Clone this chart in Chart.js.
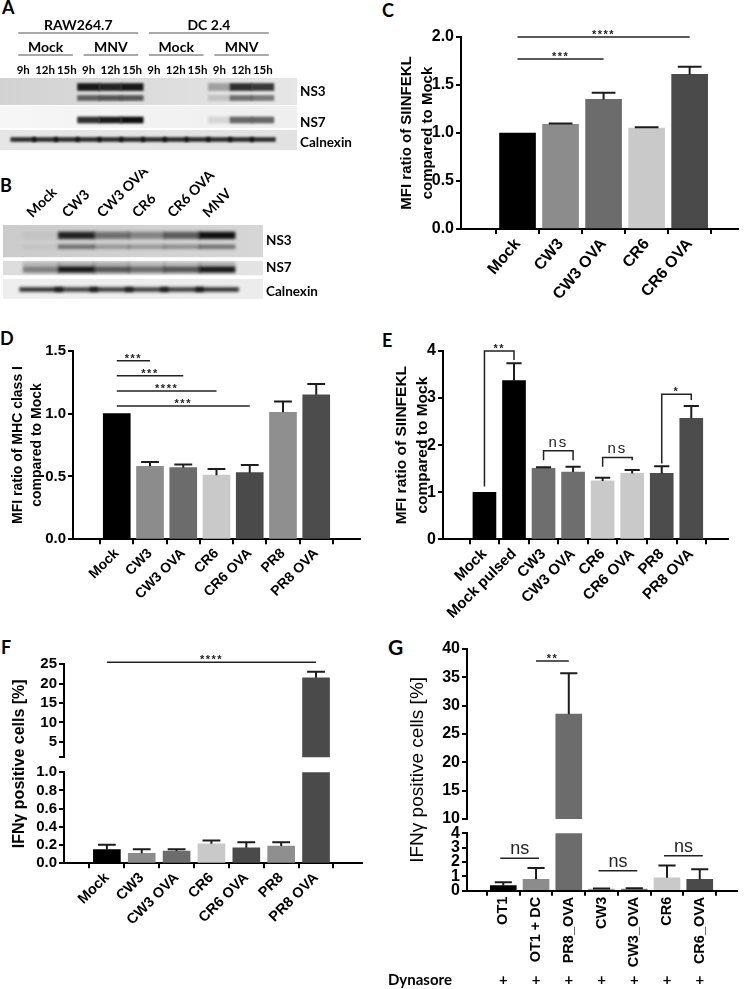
<!DOCTYPE html>
<html>
<head>
<meta charset="utf-8">
<script src="https://cdn.jsdelivr.net/npm/chart.js@4.4.1/dist/chart.umd.min.js"></script>
<style>
  body { margin: 0; background: #fff; width: 750px; height: 989px; position: relative; overflow: hidden; }
  canvas { position: absolute; }
  .tag { position: absolute; font-family: Lato, 'Open Sans', sans-serif; font-weight: bold; font-size: 18px; line-height: 1; color: #000; }
</style>
</head>
<body>
<div class="tag" style="left:2px;top:-2px">A</div>
<div class="tag" style="left:0px;top:176px">B</div>
<div class="tag" style="left:382px;top:1px">C</div>
<div class="tag" style="left:0px;top:329px">D</div>
<div class="tag" style="left:382px;top:331px">E</div>
<div class="tag" style="left:1px;top:638px">F</div>
<div class="tag" style="left:388px;top:636px;font-size:21px">G</div>
<script>
// ---- blots (band strength per lane, 0 = nothing, 1 = saturated) ----
const laneTimes = ['9h', '12h', '15h', '9h', '12h', '15h', '9h', '12h', '15h', '9h', '12h', '15h'];
const aGroups = [['Mock', 0, 2, 0], ['MNV', 3, 5, 0], ['Mock', 6, 8, 0], ['MNV', 9, 11, 0], ['RAW264.7', 0, 5, 1], ['DC 2.4', 6, 11, 1]];
const aNS3 = [0, 0, 0, 0.95, 0.9, 0.95, 0, 0, 0, 0.3, 0.85, 0.8];
const aNS3low = [0, 0, 0, 0.6, 0.65, 0.65, 0, 0, 0, 0.15, 0.55, 0.5];
const aNS7 = [0, 0, 0, 0.85, 0.95, 1, 0, 0, 0, 0.12, 0.6, 0.6];
const aCalnexin = [0.85, 0.85, 0.85, 0.85, 0.85, 0.85, 0.85, 0.85, 0.85, 0.85, 0.85, 0.85];

const bLanes = ['Mock', 'CW3', 'CW3 OVA', 'CR6', 'CR6 OVA', 'MNV'];
const bNS3 = [0.05, 0.9, 0.5, 0.4, 0.6, 1];
const bNS3low = [0.05, 0.5, 0.3, 0.3, 0.35, 0.5];
const bNS7up = [0.2, 0.25, 0.25, 0.2, 0.2, 0.25];
const bNS7 = [0.45, 0.95, 0.65, 0.55, 0.65, 0.95];
const bCalnexin = [0.85, 0.8, 0.8, 0.8, 0.8, 0.85];

// ---- C ----
const cCats = ['Mock', 'CW3', 'CW3 OVA', 'CR6', 'CR6 OVA'];
const cMean = [1.0, 1.09, 1.35, 1.05, 1.61];
const cSem = [0, 0.01, 0.07, 0.01, 0.08];
const cTicks = [0, 0.5, 1, 1.5, 2];
const cSig = [[0, 4, 2.0, '****'], [0, 2, 1.77, '***']];

// ---- D ----
const dCats = ['Mock', 'CW3', 'CW3 OVA', 'CR6', 'CR6 OVA', 'PR8', 'PR8 OVA'];
const dMean = [1.0, 0.58, 0.57, 0.51, 0.53, 1.01, 1.15];
const dSem = [0, 0.035, 0.025, 0.05, 0.06, 0.085, 0.085];
const dTicks = [0, 0.5, 1, 1.5];
const dSig = [[0, 1, 1.42, '***'], [0, 2, 1.30, '***'], [0, 3, 1.18, '****'], [0, 4, 1.06, '***']];

// ---- E ----
const eCats = ['Mock', 'Mock pulsed', 'CW3', 'CW3 OVA', 'CR6', 'CR6 OVA', 'PR8', 'PR8 OVA'];
const eMean = [1.0, 3.37, 1.51, 1.43, 1.24, 1.40, 1.40, 2.57];
const eSem = [0, 0.37, 0.02, 0.11, 0.07, 0.07, 0.15, 0.26];
const eTicks = [0, 1, 2, 3, 4];
// [from, to, bracket height, text, left leg end, right leg end]
const eSig = [[0, 1, 4.0, '**', 1.12, 3.81], [2, 3, 1.88, 'ns', 1.68, 1.68], [4, 5, 1.74, 'ns', 1.54, 1.68], [6, 7, 3.08, '*', 1.61, 2.96]];

// ---- F ----
const fCats = ['Mock', 'CW3', 'CW3 OVA', 'CR6', 'CR6 OVA', 'PR8', 'PR8 OVA'];
const fMean = [0.15, 0.11, 0.135, 0.215, 0.17, 0.19, 21.5];
const fSem = [0.055, 0.045, 0.02, 0.035, 0.06, 0.04, 1.6];
const fTicksHigh = [1, 5, 10, 15, 20, 25];
const fTicksLow = [0, 0.2, 0.4, 0.6, 0.8, 1.0];
const fSig = [[0, 6, 25.5, '****']];

// ---- G ----
const gCats = ['OT1', 'OT1 + DC', 'PR8_OVA', 'CW3', 'CW3_OVA', 'CR6', 'CR6_OVA'];
const gMean = [0.35, 0.8, 28.5, 0.12, 0.12, 0.9, 0.8];
const gSem = [0.24, 0.78, 7.2, 0.03, 0.05, 0.86, 0.7];
const gDynasore = ['+', '+', '+', '+', '+', '+', '+'];
const gTicksHigh = [10, 15, 20, 25, 30, 35, 40];
const gTicksLow = [0, 1, 2, 3, 4];
const gSigHigh = [[1, 2, 37.9, '**']];
const gSigLow = [[0, 1, 2.26, 'ns'], [3, 4, 1.39, 'ns'], [5, 6, 2.44, 'ns']];

// bar fills
const cColors = ['#000000', '#8c8c8c', '#6c6c6c', '#c9c9c9', '#4a4a4a'];
const dColors = ['#000000', '#8c8c8c', '#6c6c6c', '#c9c9c9', '#4a4a4a', '#8f8f8f', '#4c4c4c'];
const eColors = ['#000000', '#000000', '#6e6e6e', '#6e6e6e', '#c9c9c9', '#c9c9c9', '#4c4c4c', '#4c4c4c'];
const fColors = ['#000000', '#8c8c8c', '#6c6c6c', '#c9c9c9', '#4a4a4a', '#8f8f8f', '#4a4a4a'];
const gColors = ['#000000', '#8c8c8c', '#6c6c6c', '#a3a3a3', '#7a7a7a', '#c9c9c9', '#4a4a4a'];

const ARIAL = "'Liberation Sans', Arial, sans-serif";
const CAL = "Lato, 'Open Sans', sans-serif";
Chart.defaults.font.family = ARIAL;
Chart.defaults.color = '#000';

// error bars (upper half only, like Prism)
const errBars = {
  id: 'errBars',
  afterDatasetsDraw(chart) {
    const ds = chart.data.datasets[0];
    if (!ds.sem) return;
    const meta = chart.getDatasetMeta(0), ys = chart.scales.y, ca = chart.chartArea, ctx = chart.ctx;
    ctx.save();
    ctx.beginPath();
    ctx.rect(ca.left, ca.top - 2, ca.right - ca.left, ca.bottom - ca.top + 2);
    ctx.clip();
    ctx.strokeStyle = '#1c1c1c';
    ctx.lineWidth = 2;
    meta.data.forEach((bar, i) => {
      if (!ds.sem[i]) return;
      const top = ys.getPixelForValue(ds.data[i].y + ds.sem[i]);
      const half = bar.width * 0.33;
      ctx.beginPath();
      ctx.moveTo(bar.x, bar.y);
      ctx.lineTo(bar.x, top);
      ctx.moveTo(bar.x - half, top);
      ctx.lineTo(bar.x + half, top);
      ctx.stroke();
    });
    ctx.restore();
  }
};

// significance lines / brackets
const sigMarks = {
  id: 'sig',
  afterDatasetsDraw(chart, args, o) {
    if (!o.items) return;
    const xs = chart.scales.x, ys = chart.scales.y, ctx = chart.ctx;
    ctx.save();
    ctx.strokeStyle = '#222';
    ctx.fillStyle = '#222';
    ctx.lineWidth = 1.5;
    ctx.textAlign = 'center';
    ctx.textBaseline = 'alphabetic';
    o.items.forEach(([a, b, v, txt, la, lb]) => {
      const x1 = xs.getPixelForValue(a), x2 = xs.getPixelForValue(b), y = ys.getPixelForValue(v);
      ctx.beginPath();
      if (la !== undefined) {
        ctx.moveTo(x1, ys.getPixelForValue(la));
        ctx.lineTo(x1, y);
        ctx.lineTo(x2, y);
        ctx.lineTo(x2, ys.getPixelForValue(lb));
      } else {
        ctx.moveTo(x1 - (o.ext || 0), y);
        ctx.lineTo(x2 + (o.ext || 0), y);
      }
      ctx.stroke();
      const ns = txt === 'ns';
      ctx.font = ns ? o.nsFont : o.starFont;
      ctx.letterSpacing = ns ? (o.nsGap || '0px') : (o.starGap || '0px');
      ctx.fillText(txt, (x1 + x2) / 2, y + (ns ? -4 : 1));
    });
    ctx.restore();
  }
};

// axis title shared by the two halves of a broken axis
const sideTitle = {
  id: 'sideTitle',
  afterDraw(chart, args, o) {
    if (!o.text) return;
    const ctx = chart.ctx;
    ctx.save();
    ctx.translate(o.x, o.y);
    ctx.rotate(-Math.PI / 2);
    ctx.font = o.font;
    ctx.fillStyle = '#000';
    ctx.textAlign = 'center';
    ctx.textBaseline = 'middle';
    ctx.fillText(o.text, 0, 0);
    ctx.restore();
  }
};

// "Dynasore  +  +  +" row under panel G
const rowMarks = {
  id: 'rowMarks',
  afterDraw(chart, args, o) {
    if (!o.marks) return;
    const xs = chart.scales.x, ctx = chart.ctx;
    ctx.save();
    ctx.fillStyle = '#000';
    ctx.textBaseline = 'middle';
    ctx.font = o.font;
    ctx.textAlign = 'left';
    ctx.fillText(o.label, o.x, o.y);
    ctx.font = o.markFont;
    ctx.textAlign = 'center';
    o.marks.forEach((m, i) => ctx.fillText(m, xs.getPixelForValue(i), o.y));
    ctx.restore();
  }
};

function addCanvas(box) {
  const cv = document.createElement('canvas');
  cv.width = box[2];
  cv.height = box[3];
  cv.style.left = box[0] + 'px';
  cv.style.top = box[1] + 'px';
  document.body.appendChild(cv);
  return cv;
}

function barChart(o) {
  const [bx, by, bw, bh] = o.box;
  const [L, T, R, B] = o.plot;
  const showX = o.showX !== false;
  const axisTicks = { display: true, drawOnChartArea: false, drawTicks: true, tickLength: 5, color: '#000', lineWidth: 2 };
  return new Chart(addCanvas(o.box), {
    type: 'bar',
    data: {
      datasets: [{
        data: o.mean.map((v, i) => ({ x: i, y: v })),
        sem: o.sem,
        backgroundColor: o.colors,
        borderWidth: 0,
        barThickness: o.barW,
        clip: 0
      }]
    },
    options: {
      responsive: false,
      animation: false,
      events: [],
      layout: { padding: { top: T - by, right: bx + bw - R, left: 0, bottom: showX ? 0 : by + bh - B } },
      plugins: {
        legend: { display: false },
        tooltip: { enabled: false },
        sig: o.sig || {},
        sideTitle: o.sideTitle || {},
        rowMarks: o.rowMarks || {}
      },
      scales: {
        x: {
          type: 'linear',
          min: o.xr[0],
          max: o.xr[1],
          display: showX,
          afterFit: s => { if (showX) s.height = by + bh - B; },
          afterBuildTicks: s => { s.ticks = o.cats.map((c, i) => ({ value: i })); },
          ticks: {
            callback: v => o.cats[v],
            autoSkip: false,
            minRotation: o.rot,
            maxRotation: o.rot,
            padding: 1,
            color: '#000',
            font: { size: o.xFont, weight: 'bold' }
          },
          grid: axisTicks,
          border: { display: true, color: '#000', width: 2 }
        },
        y: {
          min: o.yr[0],
          max: o.yr[1],
          afterFit: s => { s.width = L - bx; },
          afterBuildTicks: s => { s.ticks = o.yTicks.map(v => ({ value: v })); },
          ticks: { callback: o.yFmt, autoSkip: false, padding: 2, color: '#000', font: { size: o.yFont, weight: 'bold' } },
          grid: axisTicks,
          border: { display: true, color: '#000', width: 2 },
          title: o.title
            ? { display: true, text: o.title.text, color: '#000', font: o.title.font, padding: { top: o.title.pad, bottom: 0 } }
            : { display: false }
        }
      }
    },
    plugins: [errBars, sigMarks, sideTitle, rowMarks]
  });
}

// western blot strips: background strips + blurred band bars
const blotDraw = {
  id: 'blot',
  beforeDatasetsDraw(chart, args, o) {
    const ctx = chart.ctx, ys = chart.scales.y, ca = chart.chartArea;
    ctx.save();
    o.rows.forEach(r => {
      const y1 = ys.getPixelForValue(r.top), y2 = ys.getPixelForValue(r.bottom);
      const g = ctx.createLinearGradient(ca.left, 0, ca.right, 0);
      g.addColorStop(0, r.bg[0]);
      g.addColorStop(1, r.bg[1]);
      ctx.fillStyle = g;
      ctx.fillRect(ca.left, y1, ca.right - ca.left, y2 - y1);
    });
    ctx.filter = 'blur(' + o.blur + 'px)';
  },
  afterDatasetsDraw(chart) {
    chart.ctx.restore();
  },
  afterDraw(chart, args, o) {
    if (!o.groups) return;
    const ctx = chart.ctx, xs = chart.scales.x, ca = chart.chartArea;
    ctx.save();
    ctx.font = 'bold 14px ' + CAL;
    ctx.textAlign = 'center';
    ctx.textBaseline = 'middle';
    o.groups.forEach(([label, from, to, level]) => {
      const x1 = xs.getPixelForValue(from) - 5, x2 = xs.getPixelForValue(to) + 6;
      const y = ca.top - o.levels[level];
      ctx.strokeStyle = '#8c8c8c';
      ctx.lineWidth = 1.5;
      ctx.beginPath();
      ctx.moveTo(x1, y);
      ctx.lineTo(x2, y);
      ctx.stroke();
      ctx.fillStyle = '#000';
      ctx.fillText(label, (x1 + x2) / 2, y - 7.5);
    });
    ctx.restore();
  }
};

function blotChart(o) {
  const [bx, by, bw, bh] = o.box;
  const [L, T, R, B] = o.plot;
  const datasets = o.bands.map(b => ({
    data: b.vals.map((v, i) => ({ x: i, y: [b.c - b.h / 2, b.c + b.h / 2] })),
    backgroundColor: b.vals.map(v => 'rgba(14,14,14,' + v + ')'),
    barThickness: b.w,
    borderWidth: 0,
    grouped: false,
    clip: false
  }));
  return new Chart(addCanvas(o.box), {
    type: 'bar',
    data: { datasets },
    options: {
      responsive: false,
      animation: false,
      events: [],
      layout: { padding: { left: L - bx, top: 0, right: 0, bottom: by + bh - B } },
      plugins: {
        legend: { display: false },
        tooltip: { enabled: false },
        blot: { rows: o.rows, groups: o.groups, levels: o.levels, blur: o.blur }
      },
      scales: {
        x: {
          type: 'linear',
          position: 'top',
          min: o.xr[0],
          max: o.xr[1],
          afterFit: s => { s.height = T - by; },
          afterBuildTicks: s => { s.ticks = o.lanes.map((l, i) => ({ value: i })); },
          ticks: {
            callback: v => o.lanes[v],
            autoSkip: false,
            minRotation: o.rot,
            maxRotation: o.rot,
            padding: o.tickPad,
            color: '#000',
            font: { family: CAL, size: o.laneFont, weight: 'bold' }
          },
          grid: { display: false, drawTicks: false },
          border: { display: false }
        },
        y: {
          position: 'right',
          reverse: true,
          min: 0,
          max: B - T,
          afterFit: s => { s.width = bx + bw - R; },
          afterBuildTicks: s => { s.ticks = o.rows.map(r => ({ value: r.mid })); },
          ticks: { callback: (v, i) => o.rows[i].name, autoSkip: false, padding: 3, color: '#000', font: { family: CAL, size: 13.5, weight: 'bold' } },
          grid: { display: false, drawTicks: false },
          border: { display: false }
        }
      }
    },
    plugins: [blotDraw]
  });
}

// ---------- A ----------
blotChart({
  box: [0, 0, 375, 165], plot: [0, 78, 297, 150],
  lanes: laneTimes, xr: [-0.5, 12.0], rot: 0, tickPad: 1, blur: 1.3, laneFont: 11.5,
  groups: aGroups, levels: [23, 45],
  rows: [
    { name: 'NS3', top: 0, bottom: 27, mid: 14, bg: ['#d2d2d2', '#e6e6e6'] },
    { name: 'NS7', top: 28, bottom: 50, mid: 45, bg: ['#f6f6f6', '#efefef'] },
    { name: 'Calnexin', top: 52, bottom: 72, mid: 65, bg: ['#e6e6e6', '#e2e2e2'] }
  ],
  bands: [
    { vals: aNS3, c: 9, h: 7, w: 22 },
    { vals: aNS3low, c: 20, h: 5, w: 22 },
    { vals: aNS7, c: 42, h: 6, w: 22 },
    { vals: aCalnexin, c: 61.5, h: 4, w: 25 }
  ]
});

// ---------- B ----------
blotChart({
  box: [0, 170, 375, 140], plot: [3, 225, 263, 303],
  lanes: bLanes, xr: [-0.47, 5.69], rot: 45, tickPad: 4, blur: 1.5, laneFont: 14,
  rows: [
    { name: 'NS3', top: 0, bottom: 34, mid: 16, bg: ['#cbcbcb', '#d6d6d6'] },
    { name: 'NS7', top: 38, bottom: 53, mid: 45, bg: ['#dcdcdc', '#e4e4e4'] },
    { name: 'Calnexin', top: 57, bottom: 78, mid: 70, bg: ['#eeeeee', '#ececec'] }
  ],
  bands: [
    { vals: bNS3, c: 11, h: 7, w: 36 },
    { vals: bNS3low, c: 23, h: 4, w: 36 },
    { vals: bNS7up, c: 41, h: 3, w: 36 },
    { vals: bNS7, c: 47, h: 6, w: 36 },
    { vals: bCalnexin, c: 68, h: 4, w: 43 }
  ]
});

const oneDec = v => v.toFixed(1);
const starsSmall = { starFont: 'bold 11px ' + ARIAL, starGap: '1.5px', nsFont: '15px ' + ARIAL, nsGap: '2px' };

// ---------- C ----------
barChart({
  box: [375, 0, 375, 330], plot: [461, 37, 738, 229],
  cats: cCats, mean: cMean, sem: cSem, colors: cColors,
  xr: [-0.67, 4.48], barW: 36, rot: 50, xFont: 16,
  yr: [0, 2], yTicks: cTicks, yFmt: oneDec, yFont: 16,
  title: { text: ['MFI ratio of SIINFEKL', 'compared to Mock'], font: { size: 15, weight: 'bold', lineHeight: 1.4 }, pad: 21.5 },
  sig: Object.assign({ items: cSig }, starsSmall)
});

// ---------- D ----------
barChart({
  box: [0, 330, 375, 290], plot: [73, 350.7, 360, 539.3],
  cats: dCats, mean: dMean, sem: dSem, colors: dColors,
  xr: [-0.70, 6.70], barW: 27, rot: 45, xFont: 14,
  yr: [0, 1.5], yTicks: dTicks, yFmt: oneDec, yFont: 15,
  title: { text: ['MFI ratio of MHC class I', 'compared to Mock'], font: { size: 14, weight: 'bold', lineHeight: 1.36 }, pad: 8.5 },
  sig: Object.assign({ items: dSig }, starsSmall)
});

// ---------- E ----------
barChart({
  box: [375, 330, 375, 290], plot: [443, 351, 728, 539.3],
  cats: eCats, mean: eMean, sem: eSem, colors: eColors,
  xr: [-0.80, 7.64], barW: 23, rot: 45, xFont: 15,
  yr: [0, 4], yTicks: eTicks, yFmt: v => String(v), yFont: 16,
  title: { text: ['MFI ratio of SIINFEKL', 'compared to Mock'], font: { size: 15.5, weight: 'bold', lineHeight: 1.3 }, pad: 17 },
  sig: Object.assign({ items: eSig }, starsSmall)
});

// ---------- F (broken y axis) ----------
barChart({
  box: [0, 620, 375, 369], plot: [64, 664.3, 361.7, 757.3], showX: false,
  cats: fCats, mean: fMean, sem: fSem, colors: fColors,
  xr: [-0.62, 6.70], barW: 27, rot: 45, xFont: 14.5,
  yr: [1, 25], yTicks: fTicksHigh, yFmt: v => (v === 1 ? '' : String(v)), yFont: 15,
  sig: Object.assign({ items: fSig }, starsSmall)
});
barChart({
  box: [0, 620, 375, 369], plot: [64, 772.3, 361.7, 863.3],
  cats: fCats, mean: fMean, sem: fSem, colors: fColors,
  xr: [-0.62, 6.70], barW: 27, rot: 45, xFont: 14.5,
  yr: [0, 1], yTicks: fTicksLow, yFmt: oneDec, yFont: 15,
  sideTitle: { text: 'IFNγ positive cells [%]', x: 20, y: (664.3 + 863.3) / 2 - 620, font: 'bold 16px ' + ARIAL }
});

// ---------- G (broken y axis) ----------
barChart({
  box: [375, 620, 375, 369], plot: [467, 649, 736.7, 819], showX: false,
  cats: gCats, mean: gMean, sem: gSem, colors: gColors,
  xr: [-0.52, 6.54], barW: 26, rot: 90, xFont: 14.5,
  yr: [10, 40], yTicks: gTicksHigh, yFmt: v => String(v), yFont: 16,
  sig: { items: gSigHigh, starFont: 'bold 11px ' + ARIAL, starGap: '1.5px' }
});
barChart({
  box: [375, 620, 375, 369], plot: [467, 833.3, 736.7, 890.7],
  cats: gCats, mean: gMean, sem: gSem, colors: gColors,
  xr: [-0.52, 6.54], barW: 26, rot: 90, xFont: 14.5,
  yr: [0, 4], yTicks: gTicksLow, yFmt: v => String(v), yFont: 16,
  sig: { items: gSigLow, nsFont: '18px ' + ARIAL, nsGap: '0px', ext: 3 },
  sideTitle: { text: 'IFNγ positive cells [%]', x: 418 - 375, y: (649 + 890.7) / 2 - 620, font: '19px ' + ARIAL },
  rowMarks: { label: 'Dynasore', marks: gDynasore, x: 388 - 375, y: 980 - 620, font: 'bold 15px ' + CAL, markFont: 'bold 15px ' + CAL }
});
</script>
</body>
</html>
